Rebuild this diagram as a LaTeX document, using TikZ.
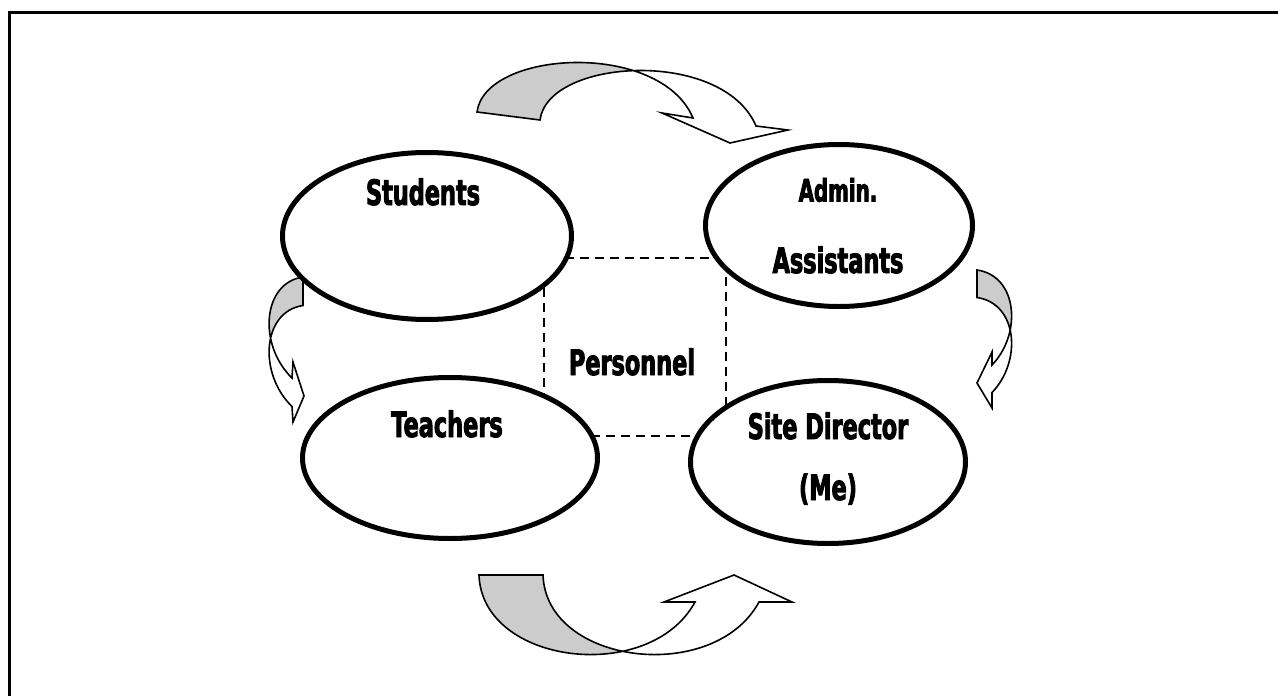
\documentclass[tikz,border=0pt]{standalone}
\usepackage{fontspec}
\usetikzlibrary{shapes.geometric}
\newfontfamily\imp{DejaVu Sans}[UprightFont={* Bold}, FakeStretch=0.64, FakeBold=2.5]
\definecolor{tailgray}{HTML}{CCCCCC}
\begin{document}
\begin{tikzpicture}[x=1pt,y=-1pt,
  ell/.style={draw, ellipse, line width=5pt, fill=white, inner sep=0pt},
  lbl/.style={font=\imp\fontsize{35}{40}\selectfont, anchor=base, inner sep=0pt},
  arrline/.style={line width=1.6pt, line join=miter}]
\useasboundingbox (0,0) rectangle (1278,696);
% frame
\draw[line width=3pt] (9.5,720) -- (9.5,12.5) -- (1300,12.5);

% top arrow
\fill[white] (477,112) .. controls (485,50) and (660,40) .. (693,118) -- (662,113) -- (730,143) -- (788,130) -- (756,126) .. controls (723,48) and (548,58) .. (540,120) -- cycle;
\begin{scope}
\clip (540,120) .. controls (548,58) and (723,48) .. (756,126) -- (756,0) -- (400,0) -- (400,124) -- cycle;
\fill[tailgray] (477,112) .. controls (485,50) and (660,40) .. (693,118) -- (662,113) -- (730,143) -- (788,130) -- (756,126) .. controls (723,48) and (548,58) .. (540,120) -- cycle;
\end{scope}
\draw[arrline] (477,112) .. controls (485,50) and (660,40) .. (693,118) -- (662,113) -- (730,143) -- (788,130) -- (756,126) .. controls (723,48) and (548,58) .. (540,120) -- cycle;

% bottom arrow
\fill[white] (479,575) .. controls (482,665) and (650,685) .. (695,602) -- (664,602) -- (734,575) -- (792,602) -- (759,602) .. controls (714,685) and (546,665) .. (543,575) -- cycle;
\begin{scope}
\clip (543,575) .. controls (546,665) and (714,685) .. (759,602) -- (759,720) -- (400,720) -- (400,570) -- (543,570) -- cycle;
\fill[tailgray] (479,575) .. controls (482,665) and (650,685) .. (695,602) -- (664,602) -- (734,575) -- (792,602) -- (759,602) .. controls (714,685) and (546,665) .. (543,575) -- cycle;
\end{scope}
\draw[arrline] (479,575) .. controls (482,665) and (650,685) .. (695,602) -- (664,602) -- (734,575) -- (792,602) -- (759,602) .. controls (714,685) and (546,665) .. (543,575) -- cycle;

% left arrow
\fill[white] (303,277) .. controls (262,283) and (258,345) .. (292,378) -- (293,362) -- (304,396) -- (293,422) -- (292,406.5) .. controls (258,373.5) and (262,311.5) .. (303,305.5) -- cycle;
\begin{scope}
\clip (303,305.5) .. controls (262,311.5) and (258,373.5) .. (292,406.5) -- (200,406.5) -- (200,200) -- (320,200) -- (320,305.5) -- cycle;
\fill[tailgray] (303,277) .. controls (262,283) and (258,345) .. (292,378) -- (293,362) -- (304,396) -- (293,422) -- (292,406.5) .. controls (258,373.5) and (262,311.5) .. (303,305.5) -- cycle;
\end{scope}
\draw[arrline] (303,277) .. controls (262,283) and (258,345) .. (292,378) -- (293,362) -- (304,396) -- (293,422) -- (292,406.5) .. controls (258,373.5) and (262,311.5) .. (303,305.5) -- cycle;

% right arrow
\fill[white] (977,270) .. controls (1018,276) and (1022,334) .. (992,365) -- (992,352) -- (977,383) -- (992,408) -- (992,392.5) .. controls (1022,361.5) and (1018,303.5) .. (977,297.5) -- cycle;
\begin{scope}
\clip (977,297.5) .. controls (1018,303.5) and (1022,361.5) .. (992,392.5) -- (1100,392.5) -- (1100,200) -- (960,200) -- (960,297.5) -- cycle;
\fill[tailgray] (977,270) .. controls (1018,276) and (1022,334) .. (992,365) -- (992,352) -- (977,383) -- (992,408) -- (992,392.5) .. controls (1022,361.5) and (1018,303.5) .. (977,297.5) -- cycle;
\end{scope}
\draw[arrline] (977,270) .. controls (1018,276) and (1022,334) .. (992,365) -- (992,352) -- (977,383) -- (992,408) -- (992,392.5) .. controls (1022,361.5) and (1018,303.5) .. (977,297.5) -- cycle;

% personnel dashed box
\draw[line width=2pt, dash pattern=on 9pt off 6pt] (544,258) rectangle (726,436);

% ellipses
\node[ell, minimum width=289pt, minimum height=167pt] (students) at (427,236) {};
\node[ell, minimum width=267pt, minimum height=162pt] (admin) at (839,225.5) {};
\node[ell, minimum width=295pt, minimum height=161pt] (teachers) at (450,458) {};
\node[ell, minimum width=275pt, minimum height=163pt] (site) at (828,462) {};

% labels
\node[lbl] (tstudents) at (423,205) {Students};
\node[lbl, font=\imp\fontsize{31}{36}\selectfont] (tadmin) at (838,201.5) {Admin.};
\node[lbl] (tassist) at (838,273) {Assistants};
\node[lbl] (tpers) at (632,375) {Personnel};
\node[lbl] (tteach) at (447,437) {Teachers};
\node[lbl] (tsite) at (828,439) {Site Director};
\node[lbl] (tme) at (828,500) {(Me)};
\end{tikzpicture}
\end{document}
